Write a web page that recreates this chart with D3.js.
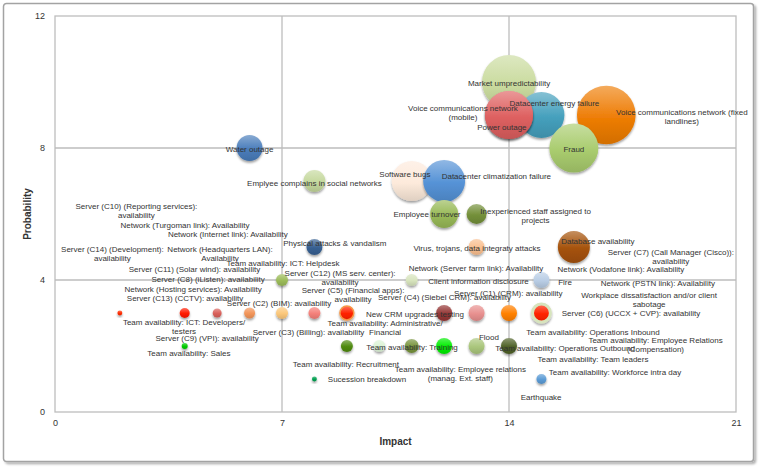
<!DOCTYPE html>
<html><head><meta charset="utf-8">
<script src="https://cdn.jsdelivr.net/npm/d3@7"></script>
<style>
body{margin:0;background:#fff;}
svg{display:block;font-family:"Liberation Sans",Arial,Helvetica,sans-serif;}
</style>
</head><body>
<svg id="chart" width="762" height="470"></svg>
<script>
// ---------------- data ----------------
const xTicks = [0, 7, 14, 21];
const yTicks = [0, 4, 8, 12];

const risks = [
  "Market umpredictability",
  "Voice communications network (fixed landlines)",
  "Datacenter energy failure",
  "Voice communications network (mobile)",
  "Power outage",
  "Fraud",
  "Water outage",
  "Software bugs",
  "Datacenter climatization failure",
  "Emplyee complains in social networks",
  "Employee turnover",
  "Inexperienced staff assigned to projects",
  "Virus, trojans, data integraty attacks",
  "Physical attacks & vandalism",
  "Database availability",
  "Team availability: ICT: Helpdesk",
  "Client information disclosure",
  "Fire",
  "Team availability: ICT: Developers/testers",
  "Server (C13) (CCTV): availability",
  "Network (Hosting services): Availability",
  "Server (C2) (BIM): availability",
  "Server (C3) (Billing): availability",
  "Server (C5) (Financial apps): availability",
  "Team availability: Administrative/Financial",
  "New CRM upgrades testing",
  "Server (C4) (Siebel CRM): availability",
  "Server (C1) (CRM): availability",
  "Server (C6) (UCCX + CVP): availability",
  "Server (C9) (VPI): availability",
  "Team availability: Recruitment",
  "Team availability: Training",
  "Team availability: Employee relations (manag. Ext. staff)",
  "Team availability: Operations Inbound",
  "Flood",
  "Team availability: Operations Outbound",
  "Sucession breakdown",
  "Earthquake"
];
const impact = [14, 17, 15, 14, 14, 16, 6, 11, 12, 8, 12, 13, 13, 8, 16, 7, 11, 15,
                2, 4, 5, 6, 7, 8, 9, 12, 13, 14, 15,
                4, 9, 10, 11, 12, 13, 14,
                8, 15];
const probability = [10, 9, 9, 9, 9, 8, 8, 7, 7, 7, 6, 6, 5, 5, 5, 4, 4, 4,
                3, 3, 3, 3, 3, 3, 3, 3, 3, 3, 3,
                2, 2, 2, 2, 2, 2, 2,
                1, 1];
const bubbleSize = [182, 215, 132, 144, 144, 150, 42, 100, 110, 30, 49, 25, 16, 16, 64, 9, 9, 16,
                1.5, 6.25, 5, 7.6, 9, 9, 12, 16, 16, 16, 20,
                2.25, 9, 9, 12, 16, 16, 16,
                1.5, 6.25];

// styles (one per risk)
const bubbleColors = ["#cadb9f", "#ee7d06", "#45a0bd", "#de6060", "#de6060", "#a9cc6e", "#4a7dbb",
  "#fdeadb", "#5592d6", "#c5d89d", "#98b957", "#74903a", "#fac090", "#376092", "#a5520a",
  "#9bbb59", "#d7e4bd", "#b9cde5",
  "#ff2a00", "#ff1a00", "#d9605a", "#f2955a", "#fbc77a", "#f4807a", "#ff2200", "#953735",
  "#e8908f", "#ff8000", "#ff2200",
  "#00cc00", "#4f8a10", "#dcf3d6", "#77933c", "#00ee00", "#aac67c", "#4f6228",
  "#00a050", "#5b9bd5"];
const bubbleRing = {24: ["#f79646", 1.5], 28: ["#d7e4bd", 3]};

// data labels: text lines and their centre (in chart units)
const labelLines = [
  ["Water outage"], ["Market umpredictability"], ["Datacenter energy  failure"],
  ["Voice communications network", "(mobile)"], ["Power outage"],
  ["Voice communications network (fixed", "landlines)"], ["Fraud"],
  ["Server (C10) (Reporting services):", "availability"],
  ["Network (Turgoman link): Availability"], ["Network (Internet link): Availability"],
  ["Server (C14) (Development):", "availability"], ["Network (Headquarters LAN):", "Availability"],
  ["Team availability: ICT: Helpdesk"], ["Server (C11) (Solar wind): availability"],
  ["Server (C8) (iListen): availability"], ["Network (Hosting services): Availability"],
  ["Server (C13) (CCTV): availability"], ["Server (C2) (BIM): availability"],
  ["Team availability: ICT: Developers/", "testers"], ["Server (C3) (Billing): availability"],
  ["Server (C9) (VPI): availability"], ["Team availability: Sales"],
  ["Server (C12) (MS serv. center):", "availability"], ["Network (Server farm link): Availability"],
  ["Client information disclosure"], ["Server (C5) (Financial apps):", "availability"],
  ["Server (C4) (Siebel CRM): availability"], ["Server (C1) (CRM): availability"],
  ["New CRM upgrades testing"], ["Team availability: Administrative/", "Financial"],
  ["Team availability: Recruitment"], ["Sucession breakdown"], ["Team availability: Training"],
  ["Flood"], ["Team availability: Employee relations", "(manag. Ext. staff)"],
  ["Team availability: Operations Outbound"], ["Team availability: Operations Inbound"],
  ["Team availability: Employee Relations", "(Compensation)"], ["Team availability: Team leaders"],
  ["Team availability: Workforce intra day"], ["Earthquake"],
  ["Server (C6) (UCCX + CVP): availability"], ["Workplace dissatisfaction and/or client", "sabotage"],
  ["Network (PSTN link): Availability"], ["Network (Vodafone link): Availability"],
  ["Server (C7) (Call Manager (Cisco)):", "availability"], ["Database availability"],
  ["Virus, trojans, data integraty attacks"], ["Inexperienced staff assigned to", "projects"],
  ["Employee turnover"], ["Software bugs"], ["Datacenter climatization failure"],
  ["Emplyee complains in social networks"], ["Physical attacks & vandalism"], ["Fire"]
];
const labelX = [6.00, 14.0, 15.40, 12.58, 13.78, 19.33, 16.00, 2.51, 4.01, 5.33, 1.77, 5.09,
  7.03, 4.30, 4.72, 4.26, 4.01, 6.91, 3.98, 7.82, 4.69, 4.13, 8.79, 12.98, 13.06, 9.19,
  12.01, 13.98, 11.10, 10.18, 8.97, 9.62, 11.01, 13.38, 12.50, 15.73, 16.59, 18.52, 16.59,
  17.27, 14.99, 17.76, 18.32, 18.59, 17.45, 18.99, 16.74, 13.01, 14.82, 11.47, 10.79, 13.61,
  8.00, 8.63, 15.73];
const labelY = [7.97, 9.97, 9.36, 9.21, 8.64, 9.09, 7.97, 6.24, 5.67, 5.39, 4.94, 4.94,
  4.52, 4.33, 4.03, 3.73, 3.45, 3.30, 2.73, 2.42, 2.24, 1.79, 4.21, 4.36, 3.97, 3.70,
  3.48, 3.61, 2.97, 2.70, 1.45, 1.00, 1.97, 2.27, 1.30, 1.94, 2.42, 2.18, 1.61,
  1.21, 0.45, 3.00, 3.55, 3.91, 4.33, 4.85, 5.18, 4.97, 6.09, 6.00, 7.21, 7.15,
  6.94, 5.12, 3.94];

const xTitle = "Impact";
const yTitle = "Probability";

// ---------------- drawing ----------------
const svg = d3.select("#chart");
const W = 762, H = 470;
const plot = {left: 55, right: 736, top: 16, bottom: 412};

const x = d3.scaleLinear().domain([0, 21]).range([plot.left, plot.right]);
const y = d3.scaleLinear().domain([0, 12]).range([plot.bottom, plot.top]);
const r = d3.scaleSqrt().domain([0, 225]).range([0, 30]);

const defs = svg.append("defs");
const sh = defs.append("filter").attr("id", "bshadow")
  .attr("x", "-30%").attr("y", "-30%").attr("width", "160%").attr("height", "170%");
sh.append("feDropShadow").attr("dx", 0).attr("dy", 1.8).attr("stdDeviation", 1.3)
  .attr("flood-color", "#000").attr("flood-opacity", 0.38);
const fsh = defs.append("filter").attr("id", "fshadow")
  .attr("x", "-5%").attr("y", "-5%").attr("width", "110%").attr("height", "110%");
fsh.append("feDropShadow").attr("dx", 2).attr("dy", 2).attr("stdDeviation", 1.2)
  .attr("flood-color", "#000").attr("flood-opacity", 0.3);

// outer chart frame
svg.append("rect").attr("x", 3.5).attr("y", 3.5).attr("width", 750).attr("height", 458)
  .attr("rx", 3).attr("fill", "#fff").attr("stroke", "#a3a3a3").attr("stroke-width", 1.5)
  .attr("filter", "url(#fshadow)");

// grid + plot frame
const gridColor = "#bdbdbd";
const g = svg.append("g");
g.append("rect").attr("x", plot.left).attr("y", plot.top)
  .attr("width", plot.right - plot.left).attr("height", plot.bottom - plot.top)
  .attr("fill", "none").attr("stroke", gridColor).attr("stroke-width", 1.3);
g.selectAll("line.vx").data(xTicks.slice(1, -1)).join("line")
  .attr("x1", d => x(d)).attr("x2", d => x(d)).attr("y1", plot.top).attr("y2", plot.bottom)
  .attr("stroke", gridColor).attr("stroke-width", 1.3);
g.selectAll("line.hy").data(yTicks.slice(1, -1)).join("line")
  .attr("y1", d => y(d)).attr("y2", d => y(d)).attr("x1", plot.left).attr("x2", plot.right)
  .attr("stroke", gridColor).attr("stroke-width", 1.3);

// axes (labels only)
const xAxis = d3.axisBottom(x).tickValues(xTicks).tickSize(0).tickPadding(8);
const yAxis = d3.axisLeft(y).tickValues(yTicks).tickSize(0).tickPadding(9);
const gx = svg.append("g").attr("transform", `translate(0,${plot.bottom})`).call(xAxis);
const gy = svg.append("g").attr("transform", `translate(${plot.left},0)`).call(yAxis);
[gx, gy].forEach(a => {
  a.select(".domain").remove();
  a.selectAll("text").attr("font-size", 9).attr("fill", "#333")
    .attr("font-family", '"Liberation Sans",Arial,sans-serif');
});
gy.selectAll("text").attr("dx", "-1");

svg.append("text").attr("x", (plot.left + plot.right) / 2).attr("y", 445)
  .attr("text-anchor", "middle").attr("font-size", 10).attr("font-weight", "bold")
  .attr("fill", "#333").text(xTitle);
svg.append("text").attr("transform", `translate(31,${(plot.top + plot.bottom) / 2}) rotate(-90)`)
  .attr("text-anchor", "middle").attr("font-size", 10).attr("font-weight", "bold")
  .attr("fill", "#333").text(yTitle);

// bubbles
const bubbles = risks.map((name, i) => ({
  name, i, x: impact[i], y: probability[i], s: bubbleSize[i], c: bubbleColors[i]
}));
bubbles.forEach(b => {
  const grad = defs.append("linearGradient").attr("id", "gr" + b.i)
    .attr("x1", 0).attr("y1", 0).attr("x2", 0).attr("y2", 1);
  const base = d3.color(b.c);
  grad.append("stop").attr("offset", "0%")
    .attr("stop-color", d3.interpolateRgb(b.c, "#ffffff")(0.35));
  grad.append("stop").attr("offset", "55%").attr("stop-color", b.c);
  grad.append("stop").attr("offset", "100%").attr("stop-color", base.darker(0.35).formatHex());
});
svg.append("g").selectAll("circle").data(bubbles).join("circle")
  .attr("cx", d => x(d.x)).attr("cy", d => y(d.y)).attr("r", d => r(d.s))
  .attr("fill", d => `url(#gr${d.i})`)
  .attr("stroke", d => bubbleRing[d.i] ? bubbleRing[d.i][0] : "none")
  .attr("stroke-width", d => bubbleRing[d.i] ? bubbleRing[d.i][1] : 0)
  .attr("filter", "url(#bshadow)");

// labels
const lg = svg.append("g").attr("font-size", 8).attr("fill", "#333").attr("text-anchor", "middle");
labelLines.forEach((lines, i) => {
  const t = lg.append("text").attr("x", x(labelX[i])).attr("y", y(labelY[i])).attr("dy", "0.35em");
  lines.forEach((ln, j) => {
    t.append("tspan").attr("x", x(labelX[i])).attr("dy", j === 0 ? "0.35em" : "1.13em").text(ln);
  });
});
</script>
</body></html>
